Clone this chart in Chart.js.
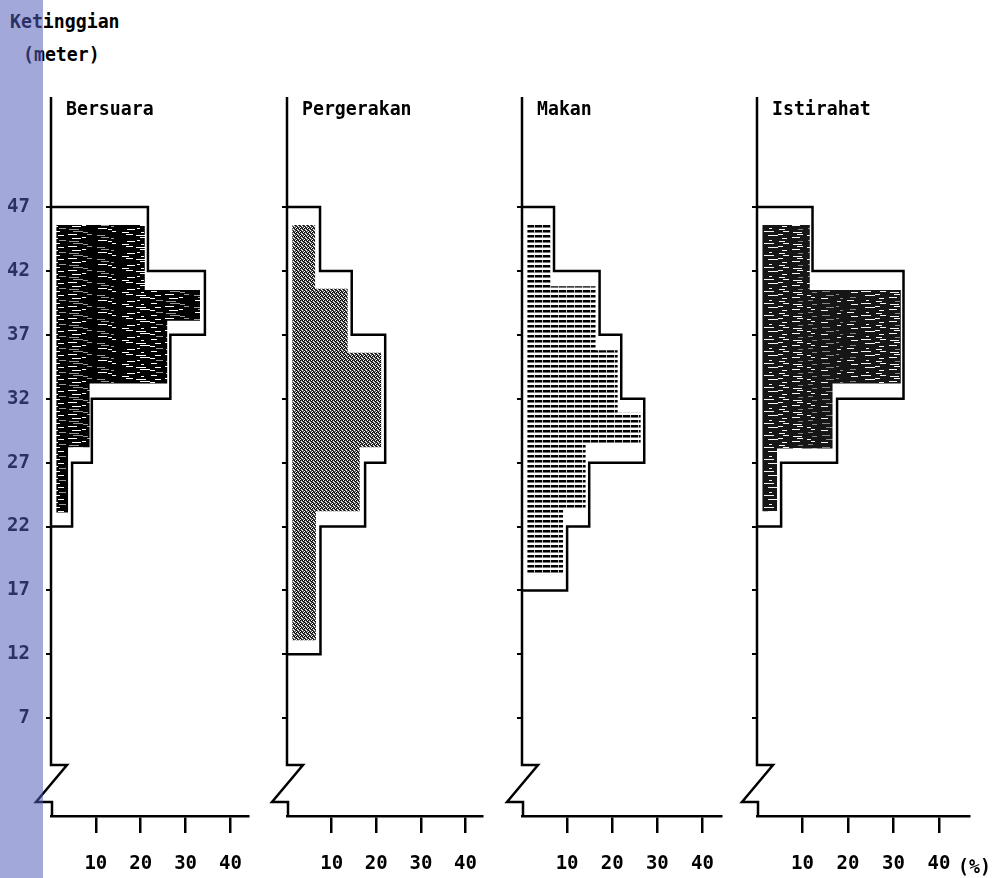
<!DOCTYPE html>
<html><head><meta charset="utf-8">
<script src="https://cdn.jsdelivr.net/npm/chart.js@4.4.0/dist/chart.umd.min.js"></script>
<style>
html,body{margin:0;padding:0;background:#fff;}
#wrap{position:relative;width:995px;height:878px;overflow:hidden;background:#fff;}
canvas.p{position:absolute;top:0;}
.t{position:absolute;font-family:"DejaVu Sans Mono",monospace;font-weight:bold;font-size:20px;line-height:20px;color:#000;white-space:pre;transform:scaleX(0.91);transform-origin:0 0;}
#stripe{position:absolute;left:0;top:0;width:43px;height:878px;background:rgba(82,92,185,0.535);z-index:10;}
</style></head><body>
<div id="wrap">
<div class="t" style="left:10px;top:11px">Ketinggian</div>
<div class="t" style="left:23px;top:44px">(meter)</div>
<div id="stripe"></div>
</div>
<script>
// ---- data ----
const panelTitles = ['Bersuara', 'Pergerakan', 'Makan', 'Istirahat'];
const altitudeTicks = [7, 12, 17, 22, 27, 32, 37, 42, 47];
const percentTicks = [10, 20, 30, 40];
const percentUnit = '(%)';
const axisTitleLines = ['Ketinggian', '(meter)'];

const bersuaraOutlineEdges = [47, 42, 37, 32, 27, 22];
const bersuaraOutline = [21.6, 34.3, 26.6, 9.1, 4.7];
const bersuaraFillEdges = [45.6, 40.5, 38.1, 33.2, 28.2, 23.1];
const bersuaraFill = [20.9, 33.2, 25.9, 8.6, 3.8];

const pergerakanOutlineEdges = [47, 42, 37, 32, 27, 22, 17, 12];
const pergerakanOutline = [7.4, 14.5, 22.0, 22.0, 17.5, 7.5, 7.5];
const pergerakanFillEdges = [45.6, 40.6, 35.6, 28.2, 23.2, 13.1];
const pergerakanFill = [6.3, 13.6, 21.1, 16.3, 6.5];

const makanOutlineEdges = [47, 42, 37, 32, 27, 22, 17];
const makanOutline = [7.1, 17.2, 22.0, 27.1, 14.9, 10.0];
const makanFillEdges = [45.6, 40.8, 35.8, 30.9, 28.4, 23.3, 18.2];
const makanFill = [6.4, 16.3, 21.2, 26.3, 14.1, 9.1];

const istirahatOutlineEdges = [47, 42, 37, 32, 27, 22];
const istirahatOutline = [12.2, 32.2, 32.2, 17.6, 5.3];
const istirahatFillEdges = [45.6, 40.5, 33.2, 28.1, 23.2];
const istirahatFill = [11.6, 31.6, 16.6, 4.4];

// ---- layout / style ----
const PX_PER_PCT = 4.55;
const Y_MIN = -0.65, Y_MAX = 55.61;
const FILL_BASE = 1.2;
const panelAxisX = [51, 287, 522, 757];
const panelAxisLen = [200, 199, 201, 212];
const LEFT = 51, RIGHT_PAD = 12, TOP = 97, XAXIS_H = 62, H = 878;
const FONT = {family: "'DejaVu Sans Mono', monospace", size: 19, weight: 'bold'};

function makePattern(w, h, draw) {
  const c = document.createElement('canvas');
  c.width = w; c.height = h;
  const g = c.getContext('2d');
  draw(g);
  return g.createPattern(c, 'repeat');
}
// scanned-look dark fill: black with short horizontal light streaks at irregular (fixed) offsets
function streakPattern(base, light, mid, seed) {
  return makePattern(97, 12, g => {
    g.fillStyle = base; g.fillRect(0, 0, 97, 12);
    for (let r = 0; r < 12; r += 3) {
      for (let k = 0; k < 6; k++) {
        const x = (r * 37 + k * 29 + seed * 11) % 97;
        const len = 3 + ((k * 7 + r + seed) % 8);
        g.fillStyle = (k + r + seed) % 3 === 0 ? mid : light;
        g.fillRect(x, r + ((k + seed) % 2), len, 1);
      }
    }
  });
}
const patDense = streakPattern('#000', '#fff', '#999', 1);
const patDense2 = streakPattern('#161616', '#f4f4f4', '#888', 4);
const patStipple = makePattern(4, 4, g => {
  g.fillStyle = '#fff'; g.fillRect(0, 0, 4, 4);
  const B = '#000', G = '#5a5a5a';
  const cells = [[0,0,B],[1,0,G],[2,0,B],[0,1,G],[2,1,G],[3,1,B],[0,2,B],[1,2,G],[3,2,G],[1,3,B],[2,3,G],[3,3,G]];
  cells.forEach(([x, y, c]) => { g.fillStyle = c; g.fillRect(x, y, 1, 1); });
});
const patStripes = makePattern(8, 5, g => {
  g.fillStyle = '#fff'; g.fillRect(0, 0, 8, 5);
  g.fillStyle = '#000'; g.fillRect(0, 0, 8, 2);
  g.fillStyle = '#777'; g.fillRect(0, 2, 8, 1);
  g.fillStyle = '#bbb'; g.fillRect(7, 0, 1, 3);
});

const panelData = [
  {oe: bersuaraOutlineEdges, ov: bersuaraOutline, fe: bersuaraFillEdges, fv: bersuaraFill, pat: patDense},
  {oe: pergerakanOutlineEdges, ov: pergerakanOutline, fe: pergerakanFillEdges, fv: pergerakanFill, pat: patStipple},
  {oe: makanOutlineEdges, ov: makanOutline, fe: makanFillEdges, fv: makanFill, pat: patStripes},
  {oe: istirahatOutlineEdges, ov: istirahatOutline, fe: istirahatFillEdges, fv: istirahatFill, pat: patDense2}
];

function stepPolygon(edges, vals, base) {
  const pts = [{x: base, y: edges[0]}];
  for (let i = 0; i < vals.length; i++) {
    pts.push({x: vals[i], y: edges[i]});
    pts.push({x: vals[i], y: edges[i + 1]});
  }
  pts.push({x: base, y: edges[edges.length - 1]});
  return pts;
}

const axisBreak = {
  id: 'axisBreak',
  afterDraw(chart) {
    const {ctx, chartArea: a} = chart;
    const x0 = chart.scales.x.getPixelForValue(0);
    ctx.save();
    ctx.strokeStyle = '#000';
    ctx.lineWidth = 2.5;
    ctx.lineJoin = 'miter';
    ctx.beginPath();
    ctx.moveTo(x0, a.top);
    ctx.lineTo(x0, a.bottom - 51);
    ctx.lineTo(x0 + 16, a.bottom - 51);
    ctx.lineTo(x0 - 15, a.bottom - 14);
    ctx.lineTo(x0 + 1, a.bottom - 14);
    ctx.lineTo(x0 + 1, a.bottom);
    ctx.stroke();
    ctx.restore();
  }
};

const wrap = document.getElementById('wrap');
panelTitles.forEach((title, i) => {
  const d = panelData[i];
  const cw = LEFT + panelAxisLen[i] + RIGHT_PAD;
  const cv = document.createElement('canvas');
  cv.className = 'p';
  cv.width = cw; cv.height = H;
  cv.style.left = (panelAxisX[i] - LEFT) + 'px';
  cv.style.width = cw + 'px'; cv.style.height = H + 'px';
  wrap.appendChild(cv);

  const t = document.createElement('div');
  t.className = 't';
  t.textContent = title;
  t.style.left = (panelAxisX[i] + 15) + 'px';
  t.style.top = '98px';
  wrap.appendChild(t);

  new Chart(cv, {
    type: 'scatter',
    data: {
      datasets: [
        {data: stepPolygon(d.fe, d.fv, FILL_BASE), showLine: true, fill: 'shape', backgroundColor: d.pat,
         borderWidth: 0, borderColor: 'rgba(0,0,0,0)', pointRadius: 0, tension: 0, clip: false},
        {data: stepPolygon(d.oe, d.ov, 0), showLine: true, fill: false, borderColor: '#000',
         borderWidth: 2.5, pointRadius: 0, tension: 0, clip: false, borderJoinStyle: 'miter'}
      ]
    },
    options: {
      responsive: false, animation: false, devicePixelRatio: 1,
      layout: {padding: {top: TOP, right: RIGHT_PAD, bottom: 0, left: 0}},
      plugins: {legend: {display: false}, tooltip: {enabled: false}, title: {display: false}},
      scales: {
        x: {
          type: 'linear', min: 0, max: panelAxisLen[i] / PX_PER_PCT,
          afterBuildTicks: s => { s.ticks = percentTicks.map(v => ({value: v})); },
          afterFit: s => { s.height = XAXIS_H; },
          grid: {display: true, drawOnChartArea: false, drawTicks: true, tickLength: 17, lineWidth: 2.5, color: '#000'},
          border: {display: true, color: '#000', width: 2.5},
          ticks: {font: FONT, color: '#000', padding: 20, maxRotation: 0, autoSkip: false}
        },
        y: {
          type: 'linear', min: Y_MIN, max: Y_MAX,
          afterBuildTicks: s => { s.ticks = altitudeTicks.map(v => ({value: v})); },
          afterFit: s => { s.width = LEFT; },
          grid: {display: true, drawOnChartArea: false, drawTicks: true, tickLength: 5, lineWidth: 2, color: '#000'},
          border: {display: false},
          ticks: {display: i === 0, font: FONT, color: '#000', padding: 16, autoSkip: false}
        }
      }
    },
    plugins: [axisBreak]
  });
});

const u = document.createElement('div');
u.className = 't';
u.textContent = percentUnit;
u.style.left = '958px';
u.style.top = '856px';
wrap.appendChild(u);
</script>
</body></html>
